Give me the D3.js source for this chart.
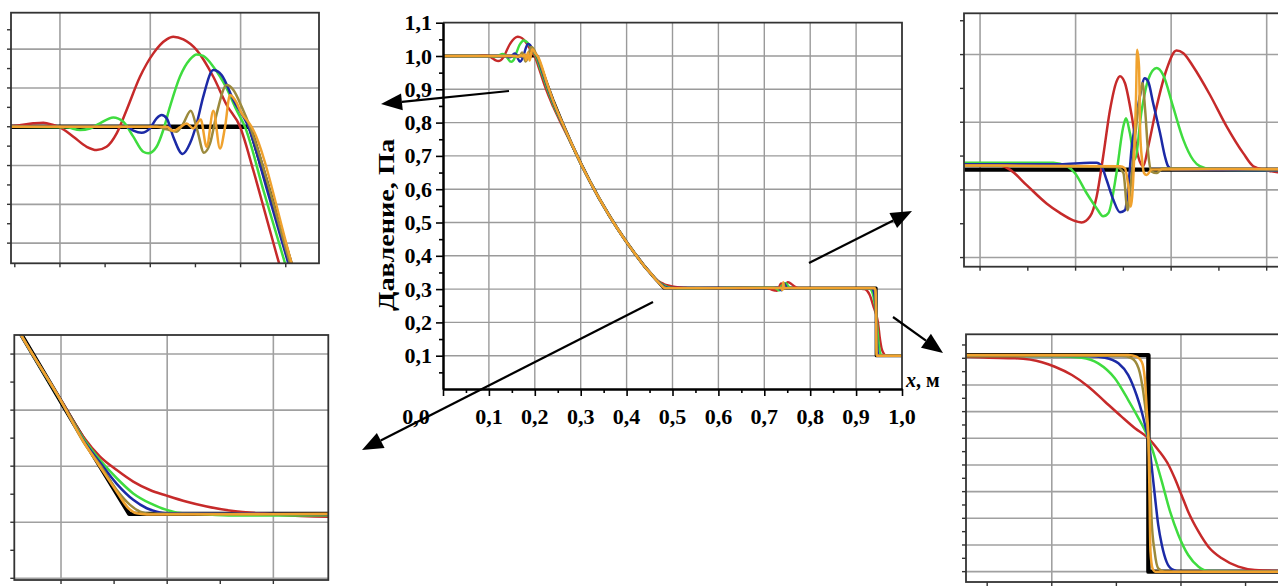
<!DOCTYPE html>
<html><head><meta charset="utf-8">
<script src="https://cdn.jsdelivr.net/npm/d3@7"></script>
<style>body{margin:0;background:#fff}svg{display:block}</style>
</head><body>
<svg id="c" width="1278" height="586"></svg>
<script>
// ---------- data (x in m, p in Pa) ----------
const xTickValues = [0,0.1,0.2,0.3,0.4,0.5,0.6,0.7,0.8,0.9,1.0];
const xTickLabels = ["0,0","0,1","0,2","0,3","0,4","0,5","0,6","0,7","0,8","0,9","1,0"];
const yTickValues = [0.1,0.2,0.3,0.4,0.5,0.6,0.7,0.8,0.9,1.0,1.1];
const yTickLabels = ["0,1","0,2","0,3","0,4","0,5","0,6","0,7","0,8","0,9","1,0","1,1"];
const yTitle = "Давление, Па";
const xTitleVar = "x", xTitleUnit = ", м";

const exact = [[0,1],[0.2052,1],[0.2277,0.912],[0.24,0.867],[0.26,0.8],[0.28,0.737],[0.30,0.678],[0.32,0.624],[0.34,0.573],[0.36,0.526],[0.38,0.482],[0.40,0.441],[0.42,0.403],[0.44,0.367],[0.46,0.335],[0.4807,0.303],[0.9437,0.303],[0.9437,0.1],[1,0.1]];

const red = [[0,1.0],[0.0741,1.0005],[0.0852,1.0022],[0.0908,1.0026],[0.0963,1.0011],[0.1,0.9996],[0.1074,0.9936],[0.1148,0.9871],[0.1203,0.985],[0.1258,0.9871],[0.1314,0.9957],[0.1369,1.0108],[0.1443,1.0322],[0.1517,1.0473],[0.1591,1.0563],[0.1627,1.058],[0.1683,1.0563],[0.1757,1.0494],[0.1849,1.0322],[0.1923,1.014],[0.1997,1.0],[0.207,0.972],[0.2144,0.941],[0.2218,0.91],[0.24,0.848],[0.26,0.79],[0.28,0.734],[0.30,0.677],[0.32,0.624],[0.34,0.573],[0.36,0.526],[0.38,0.482],[0.40,0.441],[0.42,0.403],[0.4396,0.3674],[0.4471,0.3555],[0.4553,0.343],[0.4634,0.3305],[0.4697,0.3234],[0.476,0.3186],[0.4822,0.3145],[0.4885,0.3115],[0.4948,0.3095],[0.5024,0.3073],[0.5099,0.3056],[0.5199,0.304],[0.5325,0.303],[0.5451,0.3022],[0.5557,0.302],[0.62,0.3028],[0.6948,0.3037],[0.7052,0.3036],[0.7078,0.303],[0.7122,0.3007],[0.7174,0.298],[0.7209,0.2966],[0.7244,0.2955],[0.7266,0.2952],[0.7288,0.2961],[0.7305,0.299],[0.7322,0.3049],[0.734,0.3118],[0.7357,0.316],[0.7366,0.3168],[0.7379,0.3158],[0.7397,0.3109],[0.7414,0.3049],[0.7427,0.3035],[0.744,0.3064],[0.7462,0.3123],[0.7488,0.3178],[0.7514,0.3206],[0.7532,0.3202],[0.7558,0.3182],[0.7601,0.3141],[0.7645,0.3094],[0.7689,0.3054],[0.7715,0.3035],[0.775,0.3029],[0.7779,0.3026],[0.85,0.3022],[0.9082,0.3015],[0.9128,0.3006],[0.9179,0.3],[0.9231,0.2963],[0.9256,0.2921],[0.9289,0.2843],[0.9321,0.2734],[0.9353,0.2593],[0.9385,0.2453],[0.9411,0.2344],[0.9437,0.225],[0.9456,0.2141],[0.9476,0.2],[0.9488,0.1875],[0.9501,0.1719],[0.9514,0.1562],[0.9534,0.1375],[0.9553,0.1234],[0.9579,0.1125],[0.9611,0.1047],[0.9643,0.1016],[0.9688,0.1007],[1,0.1]];

const green = [[0,1.0],[0.0741,1.0],[0.1037,0.9996],[0.1111,0.9979],[0.1166,0.9989],[0.1221,1.0022],[0.1295,1.006],[0.1351,1.0032],[0.1406,0.9936],[0.1461,0.9839],[0.1489,0.9829],[0.1535,0.9871],[0.1572,0.9979],[0.1609,1.0129],[0.1664,1.0322],[0.172,1.0434],[0.1757,1.0466],[0.1793,1.0456],[0.1849,1.0387],[0.1923,1.0247],[0.1978,1.0107],[0.2024,1.0],[0.2126,0.9592],[0.2246,0.912],[0.24,0.855],[0.26,0.795],[0.28,0.735],[0.30,0.677],[0.32,0.624],[0.34,0.573],[0.36,0.526],[0.38,0.482],[0.40,0.441],[0.42,0.403],[0.4396,0.3674],[0.4553,0.3428],[0.4634,0.3299],[0.4697,0.3222],[0.476,0.3157],[0.4822,0.3103],[0.4885,0.3068],[0.4948,0.3044],[0.4998,0.3033],[0.5074,0.3029],[0.5199,0.3024],[0.5557,0.3025],[0.62,0.3032],[0.6948,0.304],[0.7192,0.304],[0.7227,0.3035],[0.7248,0.3025],[0.7279,0.2995],[0.7305,0.2973],[0.7322,0.2961],[0.7336,0.2966],[0.7357,0.3025],[0.7375,0.3094],[0.7382,0.3106],[0.7392,0.3084],[0.7405,0.3045],[0.7423,0.3118],[0.744,0.3163],[0.7462,0.318],[0.7479,0.317],[0.7505,0.3123],[0.7532,0.3074],[0.7558,0.3044],[0.7575,0.3035],[0.761,0.303],[0.7779,0.3029],[0.85,0.3025],[0.9082,0.3022],[0.9256,0.3022],[0.9308,0.3006],[0.934,0.2953],[0.9372,0.2813],[0.9398,0.2609],[0.9418,0.2437],[0.9437,0.225],[0.945,0.2063],[0.9463,0.1844],[0.9479,0.1562],[0.9495,0.1344],[0.9514,0.1156],[0.9534,0.1047],[0.9553,0.1007],[0.97,0.1],[1,0.1]];

const blue = [[0,1.0],[0.1369,1.0],[0.1406,0.9975],[0.1452,0.9961],[0.1498,0.9989],[0.1535,1.0054],[0.1563,1.0075],[0.1591,1.0054],[0.1627,0.9936],[0.1679,0.9824],[0.172,0.9893],[0.1757,1.0021],[0.1793,1.0193],[0.1849,1.0365],[0.1895,1.0333],[0.196,1.0172],[0.2043,1.0],[0.2144,0.9603],[0.2264,0.912],[0.24,0.86],[0.26,0.797],[0.28,0.736],[0.30,0.678],[0.32,0.624],[0.34,0.573],[0.36,0.526],[0.38,0.482],[0.40,0.441],[0.42,0.403],[0.4396,0.3674],[0.4553,0.3428],[0.4634,0.3293],[0.4697,0.3213],[0.476,0.3137],[0.4822,0.308],[0.4873,0.305],[0.4911,0.3038],[0.4948,0.3032],[0.5557,0.3029],[0.62,0.3034],[0.6948,0.3038],[0.7209,0.3038],[0.7288,0.304],[0.7305,0.304],[0.7318,0.3035],[0.7331,0.3015],[0.7349,0.2985],[0.7366,0.2967],[0.7379,0.297],[0.7388,0.3005],[0.7397,0.3064],[0.7405,0.3094],[0.7418,0.3138],[0.7431,0.3165],[0.744,0.316],[0.7453,0.3128],[0.7471,0.3084],[0.7484,0.3049],[0.7492,0.3035],[0.7505,0.303],[0.7779,0.3029],[0.9082,0.3024],[0.9321,0.3022],[0.9353,0.3006],[0.9379,0.2953],[0.9398,0.2843],[0.9414,0.2656],[0.9424,0.25],[0.9432,0.2344],[0.9437,0.225],[0.9443,0.2],[0.945,0.1688],[0.9456,0.1438],[0.9463,0.125],[0.9472,0.1094],[0.9482,0.1025],[0.9501,0.1],[1,0.1]];

const olive = [[0,1.0],[0.1535,1.0],[0.1591,0.9983],[0.1646,0.9968],[0.1683,1.0021],[0.1724,1.0103],[0.176,0.9979],[0.1797,0.9833],[0.1831,0.9893],[0.1868,1.0086],[0.1923,1.0269],[0.196,1.0237],[0.2006,1.0129],[0.2052,1.0],[0.2274,0.912],[0.24,0.864],[0.26,0.799],[0.28,0.737],[0.30,0.678],[0.32,0.624],[0.34,0.573],[0.36,0.526],[0.38,0.482],[0.40,0.441],[0.42,0.403],[0.4396,0.3674],[0.4553,0.3428],[0.4634,0.3287],[0.4697,0.3204],[0.476,0.3115],[0.481,0.3062],[0.4848,0.3038],[0.4885,0.303],[0.5557,0.3029],[0.6948,0.3036],[0.7357,0.3034],[0.7375,0.3025],[0.7386,0.297],[0.7394,0.3005],[0.7405,0.3074],[0.7417,0.3133],[0.7425,0.3158],[0.7432,0.3118],[0.744,0.3054],[0.7449,0.3027],[0.7462,0.3025],[0.7479,0.3032],[0.7779,0.303],[0.9082,0.3024],[0.9385,0.3024],[0.9405,0.3],[0.9418,0.2906],[0.9427,0.2687],[0.9434,0.2406],[0.9437,0.225],[0.944,0.1906],[0.9443,0.15],[0.9449,0.1187],[0.9456,0.1031],[0.9469,0.1],[1,0.1]];

const orange = [[0,1.0],[0.1591,1.0],[0.1627,0.9974],[0.1664,0.9996],[0.1701,1.0021],[0.1738,0.9989],[0.1779,1.0047],[0.1812,0.9871],[0.1849,1.0103],[0.1886,0.986],[0.1914,1.0],[0.1941,1.0204],[0.1969,1.0172],[0.2006,1.0086],[0.2061,1.0],[0.2283,0.912],[0.24,0.866],[0.26,0.8],[0.28,0.737],[0.30,0.678],[0.32,0.624],[0.34,0.573],[0.36,0.526],[0.38,0.482],[0.40,0.441],[0.42,0.403],[0.4396,0.3674],[0.4553,0.3428],[0.4634,0.3289],[0.4697,0.3198],[0.476,0.3109],[0.4804,0.305],[0.4835,0.3032],[0.4873,0.3028],[0.5557,0.303],[0.6948,0.3036],[0.7366,0.3035],[0.7379,0.3032],[0.7388,0.3005],[0.7394,0.2975],[0.7398,0.299],[0.7403,0.3044],[0.7408,0.3133],[0.7411,0.3207],[0.7416,0.3182],[0.7419,0.3084],[0.7424,0.3044],[0.7429,0.3025],[0.7436,0.3022],[0.7449,0.303],[0.7779,0.3031],[0.9082,0.3031],[0.9398,0.3031],[0.9414,0.3015],[0.9424,0.2968],[0.943,0.2813],[0.9434,0.25],[0.9437,0.225],[0.9439,0.175],[0.9441,0.1187],[0.9445,0.1031],[0.945,0.1],[1,0.1]];

const seriesColors = ["#000000","#c62a2a","#3fdc3f","#1c2aa6","#9c8a3c","#f0a22e"];
const seriesData = [exact, red, green, blue, olive, orange];

// ---------- drawing ----------
const FONT = '"Liberation Serif","Times New Roman",serif';
const svg = d3.select("#c");
const defs = svg.append("defs");

function drawLines(g, x, y, wBlack, wCol) {
  seriesData.forEach((data, i) => {
    const line = d3.line().x(d => x(d[0])).y(d => y(d[1]))
      .curve(i === 0 ? d3.curveLinear : d3.curveMonotoneX);
    g.append("path").attr("d", line(data)).attr("fill", "none")
      .attr("stroke", seriesColors[i]).attr("stroke-width", i === 0 ? wBlack : wCol)
      .attr("stroke-linejoin", "round");
  });
}

// main panel
const mx = d3.scaleLinear([0, 1], [443, 902]);
const my = d3.scaleLinear([0, 1.1], [389, 22.7]);
const main = svg.append("g");
main.selectAll(".vg").data(xTickValues.slice(1, 10)).join("line")
  .attr("x1", d => mx(d)).attr("x2", d => mx(d)).attr("y1", my(0)).attr("y2", my(1.1))
  .attr("stroke", "#9a9a9a").attr("stroke-width", 1.4);
main.selectAll(".hg").data(yTickValues.slice(0, 10)).join("line")
  .attr("x1", mx(0)).attr("x2", mx(1)).attr("y1", d => my(d)).attr("y2", d => my(d))
  .attr("stroke", "#9a9a9a").attr("stroke-width", 1.4);
defs.append("clipPath").attr("id", "clipMain").append("rect")
  .attr("x", mx(0)).attr("y", my(1.1)).attr("width", mx(1) - mx(0)).attr("height", my(0) - my(1.1));
drawLines(main.append("g").attr("clip-path", "url(#clipMain)"), mx, my, 3, 2.4);
// frame top/right
main.append("path").attr("d", `M${mx(0)},${my(1.1)}H${mx(1)}V${my(0)}`).attr("fill", "none")
  .attr("stroke", "#333").attr("stroke-width", 1.8);
// axes
const yAx = main.append("g").attr("transform", `translate(${mx(0)},0)`)
  .call(d3.axisLeft(my).tickValues(yTickValues).tickSize(7).tickSizeOuter(0).tickPadding(4)
    .tickFormat((d, i) => yTickLabels[i]));
main.append("g").attr("transform", `translate(${mx(0)},0)`)
  .call(d3.axisLeft(my).tickValues(d3.range(0.05, 1.1, 0.1)).tickSize(4).tickSizeOuter(0).tickFormat(""));
main.append("g").attr("transform", `translate(0,${my(0)})`)
  .call(d3.axisBottom(mx).tickValues(xTickValues).tickSize(7).tickSizeOuter(0).tickFormat(""));
main.append("g").attr("transform", `translate(0,${my(0)})`)
  .call(d3.axisBottom(mx).tickValues(d3.range(0.05, 1, 0.1)).tickSize(4).tickSizeOuter(0).tickFormat(""));
main.selectAll(".domain").attr("stroke", "#000").attr("stroke-width", 2);
main.selectAll(".tick line").attr("stroke", "#000").attr("stroke-width", 1.6);
yAx.selectAll("text").attr("font-family", FONT).attr("font-weight", "bold").attr("font-size", 22).attr("fill", "#000");
main.append("g").selectAll("text").data(xTickValues).join("text")
  .attr("x", (d, i) => mx(d) + (i === 0 ? -27 : 0)).attr("y", 424)
  .attr("text-anchor", "middle").attr("font-family", FONT).attr("font-weight", "bold")
  .attr("font-size", 22).text((d, i) => xTickLabels[i]);
main.append("text").attr("transform", "translate(394,225) rotate(-90)")
  .attr("text-anchor", "middle").attr("font-family", FONT).attr("font-weight", "bold")
  .attr("font-size", 24).attr("textLength", 172).attr("lengthAdjust", "spacingAndGlyphs").text(yTitle);
const xt = main.append("text").attr("x", 906).attr("y", 387).attr("font-family", FONT)
  .attr("font-weight", "bold").attr("font-size", 20);
xt.append("tspan").attr("font-style", "italic").text(xTitleVar);
xt.append("tspan").text(xTitleUnit);

// insets
const insets = [
  {id: "tl", l: 11, r: 319, t: 12.7, b: 263.3, xd: [0.0729, 0.2434], yd: [0.912, 1.0735],
   gx: [0.10, 0.15, 0.20], gy: [0.925, 0.95, 0.975, 1.0, 1.025, 1.05],
   tx: d3.range(0.075, 0.24, 0.025), ty: d3.range(0.925, 1.07, 0.0125)},
  {id: "tr", l: 964, r: 1290, t: 13.3, b: 266.7, xd: [0.6958, 0.7811], yd: [0.28865, 0.3261],
   gx: [0.70, 0.725, 0.75, 0.775], gy: [0.29, 0.30, 0.31, 0.32],
   tx: d3.range(0.70, 0.78, 0.0125), ty: d3.range(0.29, 0.326, 0.005)},
  {id: "bl", l: 14.3, r: 328.3, t: 335, b: 580, xd: [0.4374, 0.5557], yd: [0.2794, 0.3668],
   gx: [0.455, 0.495, 0.535], gy: [0.28, 0.30, 0.32, 0.34, 0.36],
   tx: d3.range(0.455, 0.55, 0.02), ty: d3.range(0.28, 0.366, 0.01)},
  {id: "br", l: 966, r: 1290, t: 334.3, b: 582, xd: [0.9084, 0.9711], yd: [0.0903, 0.3225],
   gx: [0.925, 0.95], gy: d3.range(0.1, 0.301, 0.025),
   tx: d3.range(0.9125, 0.97, 0.0125), ty: d3.range(0.1, 0.32, 0.0125)}
];
insets.forEach(c => {
  const g = svg.append("g");
  const x = d3.scaleLinear(c.xd, [c.l, c.r]);
  const y = d3.scaleLinear(c.yd, [c.b, c.t]);
  g.append("rect").attr("x", c.l).attr("y", c.t).attr("width", c.r - c.l).attr("height", c.b - c.t).attr("fill", "#fff");
  g.selectAll(".vg").data(c.gx).join("line")
    .attr("x1", d => x(d)).attr("x2", d => x(d)).attr("y1", c.t).attr("y2", c.b)
    .attr("stroke", "#a0a0a0").attr("stroke-width", 1.6);
  g.selectAll(".hg").data(c.gy).join("line")
    .attr("x1", c.l).attr("x2", c.r).attr("y1", d => y(d)).attr("y2", d => y(d))
    .attr("stroke", "#a0a0a0").attr("stroke-width", 1.6);
  defs.append("clipPath").attr("id", "clip-" + c.id).append("rect")
    .attr("x", c.l).attr("y", c.t).attr("width", c.r - c.l).attr("height", c.b - c.t);
  drawLines(g.append("g").attr("clip-path", `url(#clip-${c.id})`), x, y, 4.4, 2.5);
  g.append("rect").attr("x", c.l).attr("y", c.t).attr("width", c.r - c.l).attr("height", c.b - c.t)
    .attr("fill", "none").attr("stroke", "#333").attr("stroke-width", 1.8);
  g.selectAll(".ty").data(c.ty).join("line")
    .attr("x1", c.l - 4).attr("x2", c.l).attr("y1", d => y(d)).attr("y2", d => y(d))
    .attr("stroke", "#333").attr("stroke-width", 1.4);
  g.selectAll(".tx").data(c.tx).join("line")
    .attr("x1", d => x(d)).attr("x2", d => x(d)).attr("y1", c.b).attr("y2", c.b + 4)
    .attr("stroke", "#333").attr("stroke-width", 1.4);
});

// arrows (annotation)
const arrows = [[509, 91, 381, 104], [653, 302, 362, 450], [809, 263, 912, 211], [893, 317, 943, 353]];
arrows.forEach(([x1, y1, x2, y2]) => {
  const dx = x2 - x1, dy = y2 - y1, L = Math.hypot(dx, dy), ux = dx / L, uy = dy / L;
  const hl = 21, hw = 8.5;
  const bx = x2 - ux * hl, by = y2 - uy * hl;
  svg.append("line").attr("x1", x1).attr("y1", y1).attr("x2", bx).attr("y2", by)
    .attr("stroke", "#000").attr("stroke-width", 2.2);
  svg.append("path").attr("d", `M${x2},${y2}L${bx - uy * hw},${by + ux * hw}L${bx + uy * hw},${by - ux * hw}Z`)
    .attr("fill", "#000");
});
</script>
</body></html>
